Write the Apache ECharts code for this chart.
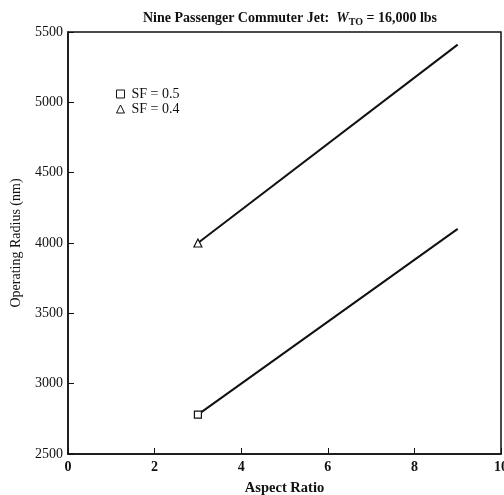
<!DOCTYPE html>
<html>
<head>
<meta charset="utf-8">
<script src="https://cdn.jsdelivr.net/npm/echarts@6/dist/echarts.min.js"></script>
<style>
html,body{margin:0;padding:0;background:#fff;}
#chart{width:504px;height:495px;}
</style>
</head>
<body>
<div id="chart"></div>
<script>
// Operating radius vs. aspect ratio, two structural factor cases
var aspectRatio = [3, 9];
var radiusSF05 = [2780, 4100];
var radiusSF04 = [4000, 5410];
var xTicks = [0, 2, 4, 6, 8, 10];
var yTicks = [2500, 3000, 3500, 4000, 4500, 5000, 5500];

var FONT = '"Liberation Serif", "DejaVu Serif", serif';

// marker only on the first point of each line
function withStartMarker(xs, ys, symbol) {
  return xs.map(function (x, i) {
    return {
      value: [x, ys[i]],
      symbol: i === 0 ? symbol : 'none'
    };
  });
}

var chart = echarts.init(document.getElementById('chart'), null, {renderer: 'canvas'});

var axisCommon = {
  axisLine: {show: true, lineStyle: {color: '#111', width: 1.5}},
  axisTick: {show: true, inside: true, length: 6, lineStyle: {color: '#111', width: 1}},
  splitLine: {show: false},
  axisLabel: {color: '#111', fontFamily: FONT, fontSize: 14, formatter: function (v) { return String(v); }}
};

chart.setOption({
  animation: false,
  backgroundColor: '#fff',
  title: {
    text: '{n|Nine Passenger Commuter Jet:  }{w|W}{s|TO}{n| = 16,000 lbs}',
    left: 285,
    textAlign: 'center',
    top: 5,
    textStyle: {
      rich: {
        n: {fontFamily: FONT, fontSize: 14, color: '#111'},
        w: {fontFamily: FONT, fontSize: 14, fontStyle: 'italic', color: '#111'},
        s: {fontFamily: FONT, fontSize: 10, color: '#111', verticalAlign: 'bottom', padding: [7, 0, 0, 0]}
      }
    }
  },
  grid: {left: 68, right: 3, top: 32, bottom: 41, show: true, borderColor: '#111', borderWidth: 1.5,
         containLabel: false, outerBoundsMode: 'none'},
  legend: {
    orient: 'vertical',
    left: 111,
    top: 82,
    itemWidth: 8,
    itemHeight: 8,
    itemGap: 1,
    textStyle: {fontFamily: FONT, fontSize: 14, color: '#111', padding: [0, 0, 0, 2]},
    data: [
      {name: 'SF = 0.5', icon: 'rect', itemStyle: {color: '#fff', borderColor: '#111', borderWidth: 1}},
      {name: 'SF = 0.4', icon: 'triangle', itemStyle: {color: '#fff', borderColor: '#111', borderWidth: 1}}
    ]
  },
  xAxis: Object.assign({}, axisCommon, {
    type: 'value',
    min: xTicks[0],
    max: xTicks[xTicks.length - 1],
    interval: 2,
    name: 'Aspect Ratio',
    nameLocation: 'middle',
    nameGap: 27,
    nameTextStyle: {fontFamily: FONT, fontSize: 14.5, fontWeight: 'bold', color: '#111'},
    axisLabel: Object.assign({}, axisCommon.axisLabel, {margin: 6, fontWeight: 'bold'})
  }),
  yAxis: Object.assign({}, axisCommon, {
    type: 'value',
    min: yTicks[0],
    max: yTicks[yTicks.length - 1],
    interval: 500,
    name: 'Operating Radius (nm)',
    nameLocation: 'middle',
    nameGap: 45,
    nameTextStyle: {fontFamily: FONT, fontSize: 14, color: '#111'},
    axisLabel: Object.assign({}, axisCommon.axisLabel, {margin: 5})
  }),
  series: [
    {
      name: 'SF = 0.5',
      type: 'line',
      data: withStartMarker(aspectRatio, radiusSF05, 'rect'),
      symbolSize: 7,
      showAllSymbol: true,
      lineStyle: {color: '#111', width: 2},
      itemStyle: {color: '#fff', borderColor: '#111', borderWidth: 1.2}
    },
    {
      name: 'SF = 0.4',
      type: 'line',
      data: withStartMarker(aspectRatio, radiusSF04, 'triangle'),
      symbolSize: 8,
      showAllSymbol: true,
      lineStyle: {color: '#111', width: 2},
      itemStyle: {color: '#fff', borderColor: '#111', borderWidth: 1.2}
    }
  ]
});
</script>
</body>
</html>
